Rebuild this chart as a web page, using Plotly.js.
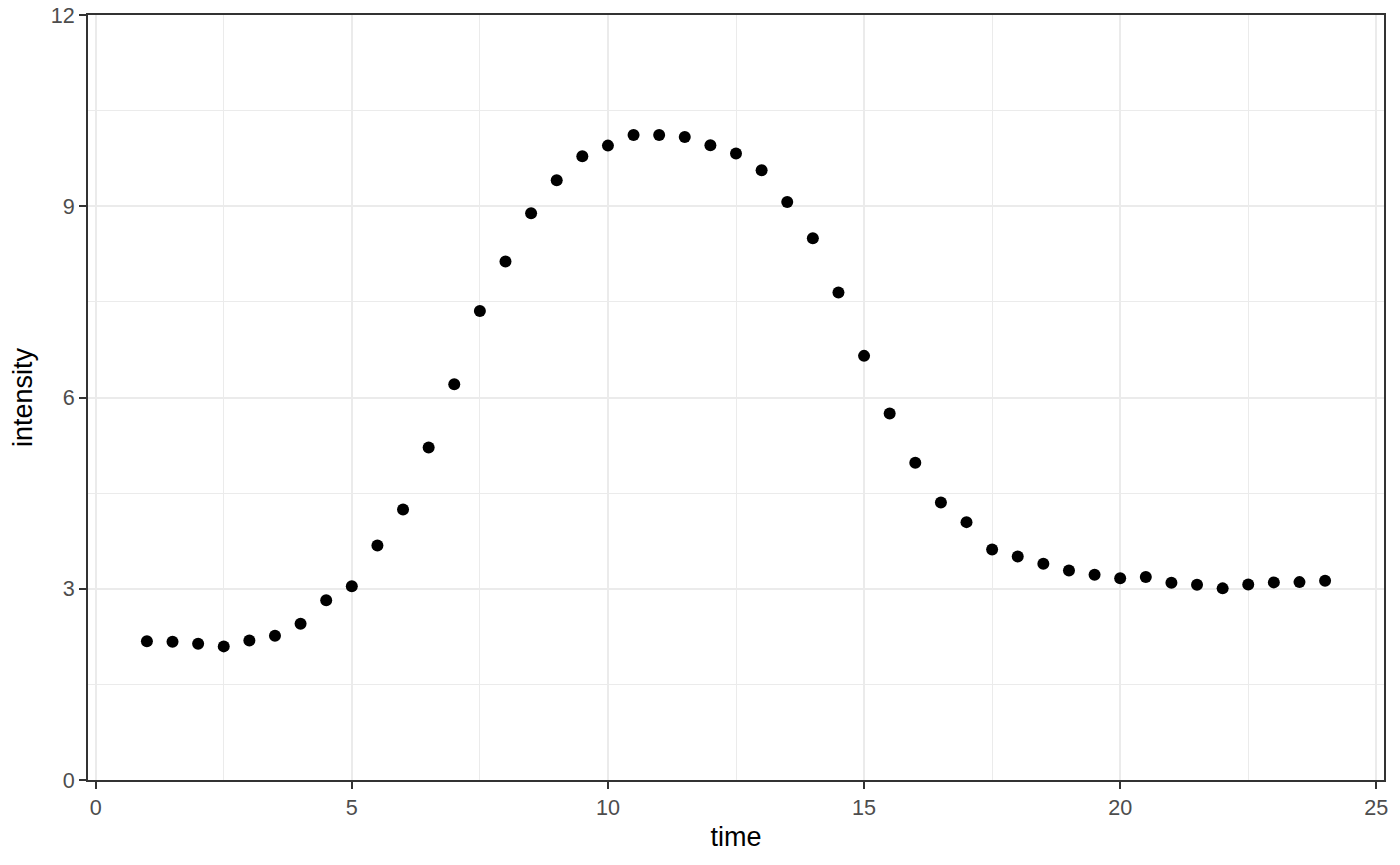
<!DOCTYPE html>
<html>
<head>
<meta charset="utf-8">
<script src="https://cdn.plot.ly/plotly-3.0.1.min.js"></script>
<style>html,body{margin:0;padding:0;background:#fff;}#chart{width:1400px;height:865px;}</style>
</head>
<body>
<div id="chart"></div>
<script>
var time = [1,1.5,2,2.5,3,3.5,4,4.5,5,5.5,6,6.5,7,7.5,8,8.5,9,9.5,10,10.5,11,11.5,12,12.5,13,13.5,14,14.5,15,15.5,16,16.5,17,17.5,18,18.5,19,19.5,20,20.5,21,21.5,22,22.5,23,23.5,24];
var intensity = [2.175,2.168,2.137,2.096,2.190,2.262,2.451,2.819,3.039,3.680,4.244,5.216,6.209,7.358,8.133,8.890,9.407,9.784,9.951,10.118,10.118,10.086,9.956,9.826,9.564,9.067,8.498,7.647,6.653,5.749,4.978,4.354,4.045,3.617,3.507,3.391,3.288,3.219,3.163,3.183,3.093,3.062,3.006,3.068,3.100,3.104,3.125];
var xTicks = [0,5,10,15,20,25];
var yTicks = [0,3,6,9,12];

var font = "'Liberation Sans', Arial, Helvetica, sans-serif";
var axisCommon = {
  showline: true, mirror: true, linecolor: '#333333', linewidth: 2,
  ticks: 'outside', ticklen: 7, tickwidth: 2, tickcolor: '#333333',
  tickfont: {family: font, size: 21.6, color: '#4D4D4D'},
  showgrid: true, gridcolor: '#EBEBEB', gridwidth: 2,
  zeroline: false
};

var trace = {
  x: time, y: intensity, type: 'scatter', mode: 'markers',
  marker: {color: '#000000', size: 12},
  hoverinfo: 'skip'
};

var layout = {
  width: 1400, height: 865,
  margin: {l: 88, r: 16, t: 15, b: 85},
  paper_bgcolor: '#FFFFFF', plot_bgcolor: '#FFFFFF',
  showlegend: false,
  font: {family: font},
  xaxis: Object.assign({}, axisCommon, {
    range: [-0.15, 25.15],
    tickmode: 'array', tickvals: xTicks, ticktext: xTicks.map(String),
    minor: {dtick: 2.5, tick0: 0, showgrid: true, gridcolor: '#EBEBEB', gridwidth: 1, ticks: ''},
    title: {text: 'time', font: {family: font, size: 27, color: '#000000'}, standoff: 8}
  }),
  yaxis: Object.assign({}, axisCommon, {
    range: [0, 12],
    tickmode: 'array', tickvals: yTicks, ticktext: yTicks.map(String),
    minor: {dtick: 1.5, tick0: 0, showgrid: true, gridcolor: '#EBEBEB', gridwidth: 1, ticks: ''},
    title: {text: 'intensity', font: {family: font, size: 27, color: '#000000'}, standoff: 10}
  })
};

Plotly.newPlot('chart', [trace], layout, {displayModeBar: false, staticPlot: true});
</script>
</body>
</html>
